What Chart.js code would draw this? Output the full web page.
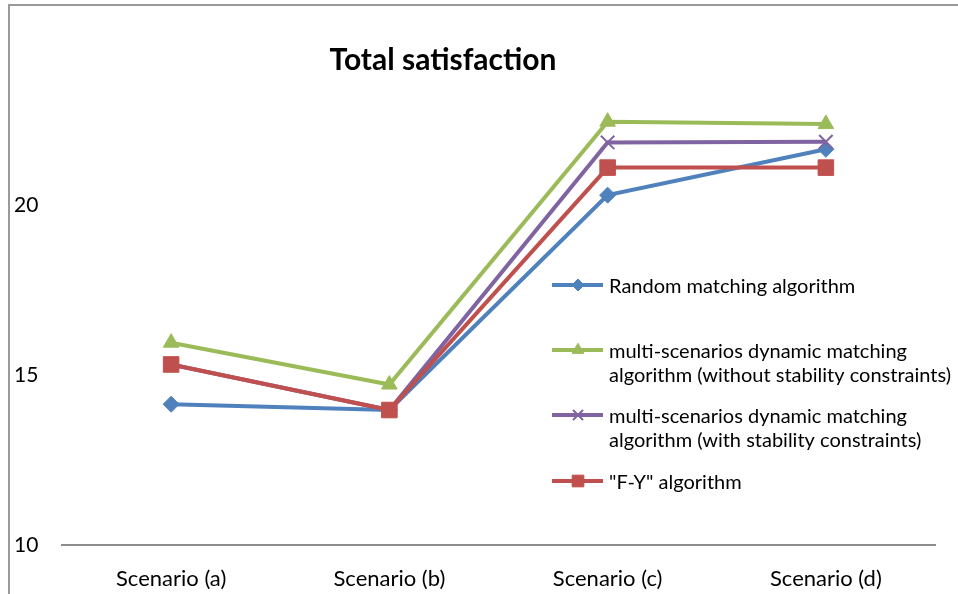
<!DOCTYPE html>
<html>
<head>
<meta charset="utf-8">
<script src="https://cdn.jsdelivr.net/npm/chart.js@4/dist/chart.umd.min.js"></script>
<style>
  html, body { margin: 0; padding: 0; background: #fff; }
  #wrap { width: 958px; height: 594px; }
</style>
</head>
<body>
<div id="wrap"><canvas id="satChart"></canvas></div>
<script>
const categories = ['Scenario (a)', 'Scenario (b)', 'Scenario (c)', 'Scenario (d)'];
const seriesNames = [
    'Random matching algorithm',
    'multi-scenarios dynamic matching algorithm (without stability constraints)',
    'multi-scenarios dynamic matching algorithm (with stability constraints)',
    '"F-Y" algorithm'
];
const randomMatching = [14.14, 13.97, 20.29, 21.64];
const dynamicNoStability = [15.95, 14.72, 22.45, 22.38];
const dynamicStability = [15.31, 13.97, 21.84, 21.86];
const fyAlgorithm = [15.31, 13.97, 21.10, 21.10];
const yTicks = [10, 15, 20];

const FONT = 'Lato';

// outer frame + white background
const framePlugin = {
    id: 'frame',
    beforeDraw(chart) {
        const ctx = chart.ctx;
        ctx.save();
        ctx.fillStyle = '#fff';
        ctx.fillRect(0, 0, chart.width, chart.height);
        ctx.strokeStyle = '#9a9a9a';
        ctx.lineWidth = 2;
        ctx.strokeRect(9, 5, chart.width + 20, chart.height + 20);
        ctx.restore();
    }
};

const titlePlugin = {
    id: 'offsetTitle',
    afterDraw(chart) {
        const ctx = chart.ctx;
        ctx.save();
        ctx.font = 'bold 30px ' + FONT;
        ctx.fillStyle = '#000';
        ctx.textAlign = 'center';
        ctx.textBaseline = 'middle';
        ctx.fillText('Total satisfaction', 443, 60);
        ctx.restore();
    }
};

// legend sits inside the plot on the right, labels wrap
const legendPlugin = {
    id: 'insideLegend',
    afterDraw(chart) {
        const ctx = chart.ctx;
        const rows = [285, 350, 415, 481];
        ctx.save();
        ctx.font = '20px ' + FONT;
        ctx.textBaseline = 'middle';
        ctx.textAlign = 'left';
        chart.data.datasets.forEach((ds, i) => {
            const y = rows[i];
            ctx.strokeStyle = ds.borderColor;
            ctx.lineWidth = 4;
            ctx.beginPath();
            ctx.moveTo(552, y);
            ctx.lineTo(603, y);
            ctx.stroke();
            ctx.fillStyle = ds.pointBackgroundColor;
            ctx.strokeStyle = ds.pointBorderColor;
            ctx.lineWidth = ds.pointBorderWidth;
            ctx.beginPath();
            Chart.helpers.drawPoint(ctx, {
                pointStyle: ds.pointStyle,
                radius: ds.pointRadius * 0.75,
                rotation: 0,
                borderWidth: ds.pointBorderWidth
            }, 578, y);
            // wrap text
            const words = ds.label.split(' ');
            const lines = [];
            let cur = '';
            words.forEach(w => {
                const test = cur ? cur + ' ' + w : w;
                if (ctx.measureText(test).width > 365 && cur) {
                    lines.push(cur);
                    cur = w;
                } else {
                    cur = test;
                }
            });
            lines.push(cur);
            ctx.fillStyle = '#000';
            lines.forEach((ln, k) => ctx.fillText(ln, 609, y + 2 + k * 24));
        });
        ctx.restore();
    }
};

const mk = (label, data, color, style, radius, order) => ({
    label: label,
    data: data,
    borderColor: color,
    backgroundColor: color,
    pointBackgroundColor: color,
    pointBorderColor: color,
    pointStyle: style,
    pointRadius: radius,
    pointHoverRadius: radius,
    pointBorderWidth: style === 'crossRot' ? 2 : 1,
    borderWidth: 4,
    tension: 0,
    order: order
});

new Chart(document.getElementById('satChart'), {
    type: 'line',
    data: {
        labels: categories,
        datasets: [
            mk(seriesNames[0], randomMatching, '#4F81BD', 'rectRot', 8, 3),
            mk(seriesNames[1], dynamicNoStability, '#9BBB59', 'triangle', 9, 2),
            mk(seriesNames[2], dynamicStability, '#8064A2', 'crossRot', 9.5, 1),
            mk(seriesNames[3], fyAlgorithm, '#C0504D', 'rect', 11, 0)
        ]
    },
    options: {
        responsive: true,
        maintainAspectRatio: false,
        animation: false,
        layout: { padding: { left: 14, right: 23, top: 35, bottom: 0 } },
        scales: {
            x: {
                offset: true,
                grid: { display: false, drawTicks: false },
                border: { display: true, color: '#8c8c8c', width: 2 },
                ticks: { color: '#000', padding: 21, font: { family: FONT, size: 22 } },
                afterFit: s => { s.height = 49; }
            },
            y: {
                min: 10,
                max: 25,
                afterBuildTicks: s => { s.ticks = yTicks.map(v => ({ value: v })); },
                grid: { display: false, drawTicks: false },
                border: { display: false },
                ticks: { color: '#000', crossAlign: 'far', font: { family: FONT, size: 21 } },
                afterFit: s => { s.width = 48; }
            }
        },
        plugins: {
            legend: { display: false },
            title: { display: false },
            tooltip: { enabled: false }
        }
    },
    plugins: [framePlugin, titlePlugin, legendPlugin]
});
</script>
</body>
</html>
